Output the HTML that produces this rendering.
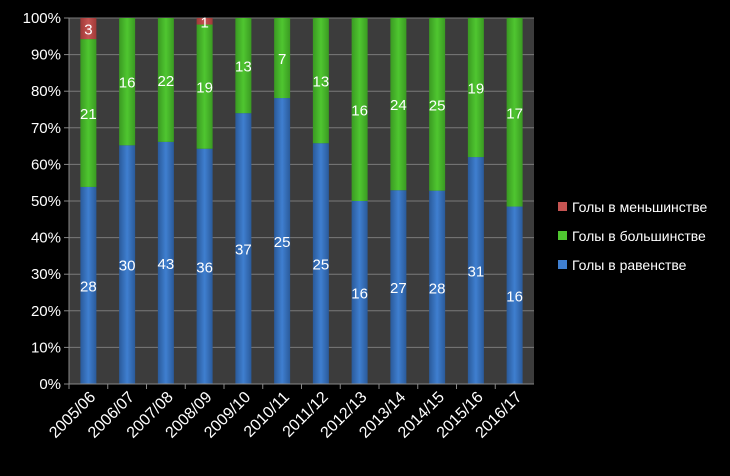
<!DOCTYPE html>
<html><head><meta charset="utf-8"><style>
body{margin:0;background:#000;width:730px;height:471px;overflow:hidden;font-family:"Liberation Sans","DejaVu Sans",sans-serif}
</style></head><body>
<svg id="c" width="730" height="471" xmlns="http://www.w3.org/2000/svg">
<defs>
<linearGradient id="gb" x1="0" x2="1"><stop offset="0" stop-color="#2a5a9a"/><stop offset="0.5" stop-color="#3f7fd0"/><stop offset="1" stop-color="#2a5a9a"/></linearGradient>
<linearGradient id="gg" x1="0" x2="1"><stop offset="0" stop-color="#3a9a22"/><stop offset="0.5" stop-color="#4fc630"/><stop offset="1" stop-color="#3a9a22"/></linearGradient>
<linearGradient id="gr" x1="0" x2="1"><stop offset="0" stop-color="#a03a38"/><stop offset="0.5" stop-color="#c55452"/><stop offset="1" stop-color="#a03a38"/></linearGradient>
</defs>
<rect x="69" y="18" width="465" height="366" fill="#3c3c3c"/>
<g id="grid"></g><g id="bars"></g><g id="axes"></g><g id="legend"></g>
</svg>
<script>
const categories=["2005/06","2006/07","2007/08","2008/09","2009/10","2010/11","2011/12","2012/13","2013/14","2014/15","2015/16","2016/17"];
const evenGoals=[28,30,43,36,37,25,25,16,27,28,31,16];
const ppGoals=[21,16,22,19,13,7,13,16,24,25,19,17];
const shGoals=[3,0,0,1,0,0,0,0,0,0,0,0];
const yTicks=[0,10,20,30,40,50,60,70,80,90,100];
const seriesNames=["Голы в меньшинстве","Голы в большинстве","Голы в равенстве"];
const NS="http://www.w3.org/2000/svg";
const X0=69,X1=534,Y0=384,Y1=18;
const bw=(X1-X0)/categories.length;
const y=p=>Y0-(Y0-Y1)*p/100;
const xc=i=>X0+bw*(i+0.5);
function mk(t,a,p){const e=document.createElementNS(NS,t);for(const k in a)e.setAttribute(k,a[k]);p.appendChild(e);return e;}
const grid=document.getElementById('grid'),axes=document.getElementById('axes'),bars=document.getElementById('bars'),leg=document.getElementById('legend');
yTicks.forEach(t=>{
 if(t>0){const l=mk('line',{x1:X0,x2:X1,y1:y(t),y2:y(t),stroke:'#7a7a7a','stroke-width':1},grid);
 
 }
 mk('line',{x1:X0-5,x2:X0,y1:y(t),y2:y(t),stroke:'#888'},axes);
 const tx=mk('text',{x:X0-8,y:y(t)+5,'text-anchor':'end',fill:'#fff','font-size':15},axes);tx.textContent=t+'%';
 
 
});
mk('line',{x1:X0,x2:X0,y1:Y1,y2:Y0,stroke:'#888'},axes);
mk('line',{x1:X0,x2:X1,y1:Y0,y2:Y0,stroke:'#888'},axes);
categories.forEach((c,i)=>{
 mk('line',{x1:X0+bw*i,x2:X0+bw*i,y1:Y0,y2:Y0+5,stroke:'#888'},axes);
 const tx=mk('text',{x:0,y:0,'text-anchor':'end',fill:'#fff','font-size':16,transform:`translate(${xc(i)+8},${Y0+14}) rotate(-45)`},axes);tx.textContent=c;
 
 
 const tot=evenGoals[i]+ppGoals[i]+shGoals[i];
 let acc=0;
 [[evenGoals[i],'url(#gb)','even'],[ppGoals[i],'url(#gg)','pp'],[shGoals[i],'url(#gr)','sh']].forEach(([v,f,n])=>{
  if(!v)return;
  const p0=acc/tot*100,p1=(acc+v)/tot*100;acc+=v;
  const r=mk('rect',{x:xc(i)-8,y:y(p1),width:16,height:y(p0)-y(p1),fill:f},bars);
  
  
  const t=mk('text',{x:xc(i),y:(y(p0)+y(p1))/2+6,'text-anchor':'middle',fill:'#fff','font-size':15},bars);t.textContent=v;
  
  
 });
});
const lc=['#c55452','#4fc630','#3f7fd0'];
seriesNames.forEach((s,i)=>{
 const g=mk('g',{},leg);
 
 
 mk('rect',{x:558,y:202+i*29,width:9,height:9,fill:lc[i]},g);
 const t=mk('text',{x:572,y:212+i*29,fill:'#fff','font-size':14},g);t.textContent=s;
});
</script>
</body></html>
